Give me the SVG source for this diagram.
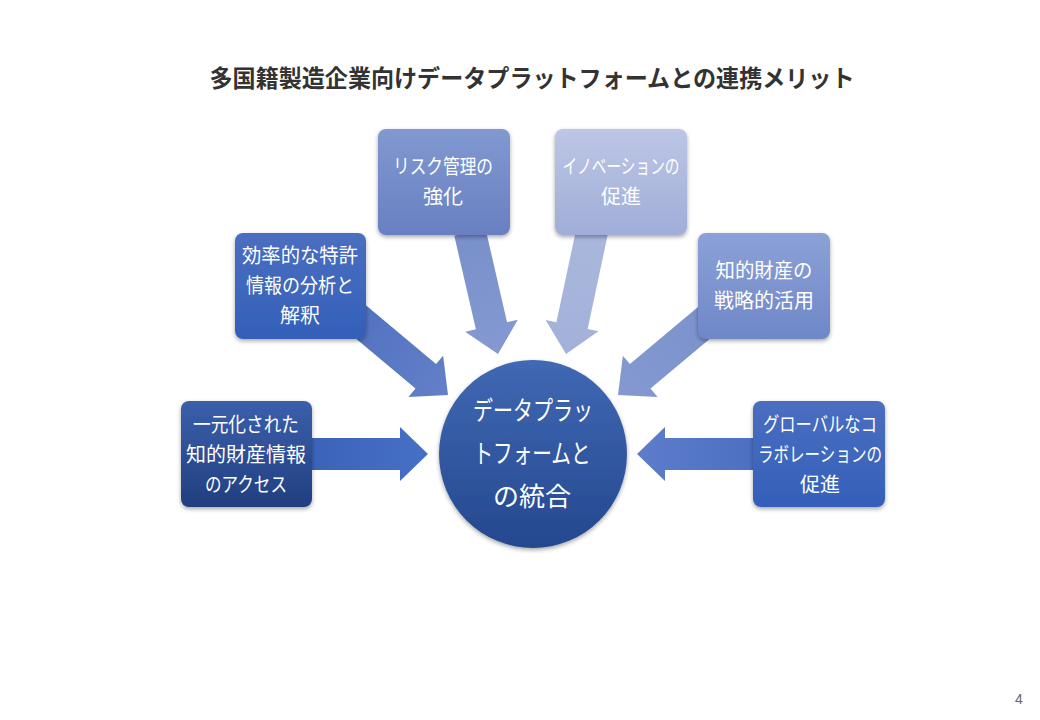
<svg xmlns="http://www.w3.org/2000/svg" width="1040" height="720" viewBox="0 0 1040 720">
<defs>
<style>
.t{font-family:"Meiryo","Noto Sans CJK JP","Noto Sans",sans-serif;fill:#ffffff;font-size:20px;text-anchor:middle;}
.c{font-size:26px;}
.title{font-family:"Noto Sans CJK JP","Noto Sans",sans-serif;fill:#333333;font-size:24px;font-weight:bold;text-anchor:middle;}
.pg{font-family:"Liberation Sans","Noto Sans",sans-serif;fill:#666666;font-size:14px;}
</style>
<filter id="sh" x="-20%" y="-20%" width="140%" height="150%">
<feDropShadow dx="0" dy="2" stdDeviation="2.2" flood-color="#000" flood-opacity="0.35"/>
</filter>
<linearGradient id="g1" x1="0" y1="0" x2="0" y2="1"><stop offset="0" stop-color="#3a5fab"/><stop offset="1" stop-color="#213f80"/></linearGradient>
<linearGradient id="g2" x1="0" y1="0" x2="0" y2="1"><stop offset="0" stop-color="#4a6ec0"/><stop offset="1" stop-color="#3460b9"/></linearGradient>
<linearGradient id="g3" x1="0" y1="0" x2="0" y2="1"><stop offset="0" stop-color="#8198d0"/><stop offset="1" stop-color="#6880c2"/></linearGradient>
<linearGradient id="g4" x1="0" y1="0" x2="0" y2="1"><stop offset="0" stop-color="#bcc6e5"/><stop offset="1" stop-color="#a0add8"/></linearGradient>
<linearGradient id="g5" x1="0" y1="0" x2="0" y2="1"><stop offset="0" stop-color="#8ca1d7"/><stop offset="1" stop-color="#6e87c7"/></linearGradient>
<linearGradient id="gc" x1="0" y1="0" x2="0" y2="1"><stop offset="0" stop-color="#4068b4"/><stop offset="1" stop-color="#24488e"/></linearGradient>
<linearGradient id="a1" x1="0" y1="0" x2="1" y2="0"><stop offset="0" stop-color="#3a63b8"/><stop offset="1" stop-color="#4670c6"/></linearGradient>
<linearGradient id="a2" x1="0" y1="0" x2="1" y2="0"><stop offset="0" stop-color="#5070c0"/><stop offset="1" stop-color="#6380c8"/></linearGradient>
<linearGradient id="a3" x1="0" y1="0" x2="1" y2="0"><stop offset="0" stop-color="#7890cb"/><stop offset="1" stop-color="#8499d0"/></linearGradient>
<linearGradient id="a4" x1="0" y1="0" x2="1" y2="0"><stop offset="0" stop-color="#aab7dc"/><stop offset="1" stop-color="#a3b1da"/></linearGradient>
<linearGradient id="a5" x1="0" y1="0" x2="1" y2="0"><stop offset="0" stop-color="#7a91cc"/><stop offset="1" stop-color="#8499d0"/></linearGradient>
<linearGradient id="a6" x1="0" y1="0" x2="1" y2="0"><stop offset="0" stop-color="#4c6fc2"/><stop offset="1" stop-color="#5d7dca"/></linearGradient>
</defs>
<rect x="0" y="0" width="1040" height="720" fill="#ffffff"/>
<text class="title" x="532" y="87" textLength="645" lengthAdjust="spacingAndGlyphs">多国籍製造企業向けデータプラットフォームとの連携メリット</text>

<g id="connectors">
<polygon transform="translate(428,454)" fill="url(#a1)" points="-120,-16 -28,-16 -28,-27 0,0 -28,27 -28,16 -120,16"/>
<polygon transform="translate(448,395) rotate(40)" fill="url(#a2)" points="-135,-16 -29,-16 -29,-27 0,0 -29,27 -29,16 -135,16"/>
<polygon transform="translate(498,354) rotate(77)" fill="url(#a3)" points="-125,-16 -29,-16 -29,-27 0,0 -29,27 -29,16 -125,16"/>
<polygon transform="translate(566,354) rotate(102)" fill="url(#a4)" points="-125,-16 -29,-16 -29,-27 0,0 -29,27 -29,16 -125,16"/>
<polygon transform="translate(618,395) rotate(140)" fill="url(#a5)" points="-135,-16 -29,-16 -29,-27 0,0 -29,27 -29,16 -135,16"/>
<polygon transform="translate(637,454) rotate(180)" fill="url(#a6)" points="-122,-16 -28,-16 -28,-27 0,0 -28,27 -28,16 -122,16"/>
</g>

<g id="node-center">
<circle cx="533" cy="454" r="94" fill="url(#gc)" filter="url(#sh)"/>
<text class="t c" x="533" y="420" textLength="120" lengthAdjust="spacingAndGlyphs">データプラッ</text>
<text class="t c" x="532" y="463" textLength="117" lengthAdjust="spacingAndGlyphs">トフォームと</text>
<text class="t c" x="532" y="506">の統合</text>
</g>

<g id="node-access">
<rect x="181" y="401" width="131" height="106" rx="8" fill="url(#g1)" filter="url(#sh)"/>
<text class="t" x="246" y="432" textLength="106" lengthAdjust="spacingAndGlyphs">一元化された</text>
<text class="t" x="246" y="462" textLength="120" lengthAdjust="spacingAndGlyphs">知的財産情報</text>
<text class="t" x="246" y="492" textLength="82" lengthAdjust="spacingAndGlyphs">のアクセス</text>
</g>

<g id="node-patent">
<rect x="235" y="233" width="131" height="106" rx="8" fill="url(#g2)" filter="url(#sh)"/>
<text class="t" x="300" y="263" textLength="116" lengthAdjust="spacingAndGlyphs">効率的な特許</text>
<text class="t" x="300" y="293" textLength="108" lengthAdjust="spacingAndGlyphs">情報の分析と</text>
<text class="t" x="300" y="323">解釈</text>
</g>

<g id="node-risk">
<rect x="378" y="129" width="132" height="106" rx="8" fill="url(#g3)" filter="url(#sh)"/>
<text class="t" x="443" y="174" textLength="100" lengthAdjust="spacingAndGlyphs">リスク管理の</text>
<text class="t" x="443" y="204">強化</text>
</g>

<g id="node-innovation">
<rect x="555" y="129" width="132" height="106" rx="8" fill="url(#g4)" filter="url(#sh)"/>
<text class="t" x="621" y="174" textLength="117" lengthAdjust="spacingAndGlyphs">イノベーションの</text>
<text class="t" x="621" y="204">促進</text>
</g>

<g id="node-strategy">
<rect x="698" y="233" width="132" height="106" rx="8" fill="url(#g5)" filter="url(#sh)"/>
<text class="t" x="764" y="278" textLength="97" lengthAdjust="spacingAndGlyphs">知的財産の</text>
<text class="t" x="764" y="308">戦略的活用</text>
</g>

<g id="node-global">
<rect x="753" y="401" width="132" height="106" rx="8" fill="url(#g2)" filter="url(#sh)"/>
<text class="t" x="820" y="432" textLength="114" lengthAdjust="spacingAndGlyphs">グローバルなコ</text>
<text class="t" x="820" y="462" textLength="124" lengthAdjust="spacingAndGlyphs">ラボレーションの</text>
<text class="t" x="820" y="492">促進</text>
</g>

<text class="pg" x="1015" y="704">4</text>
</svg>
